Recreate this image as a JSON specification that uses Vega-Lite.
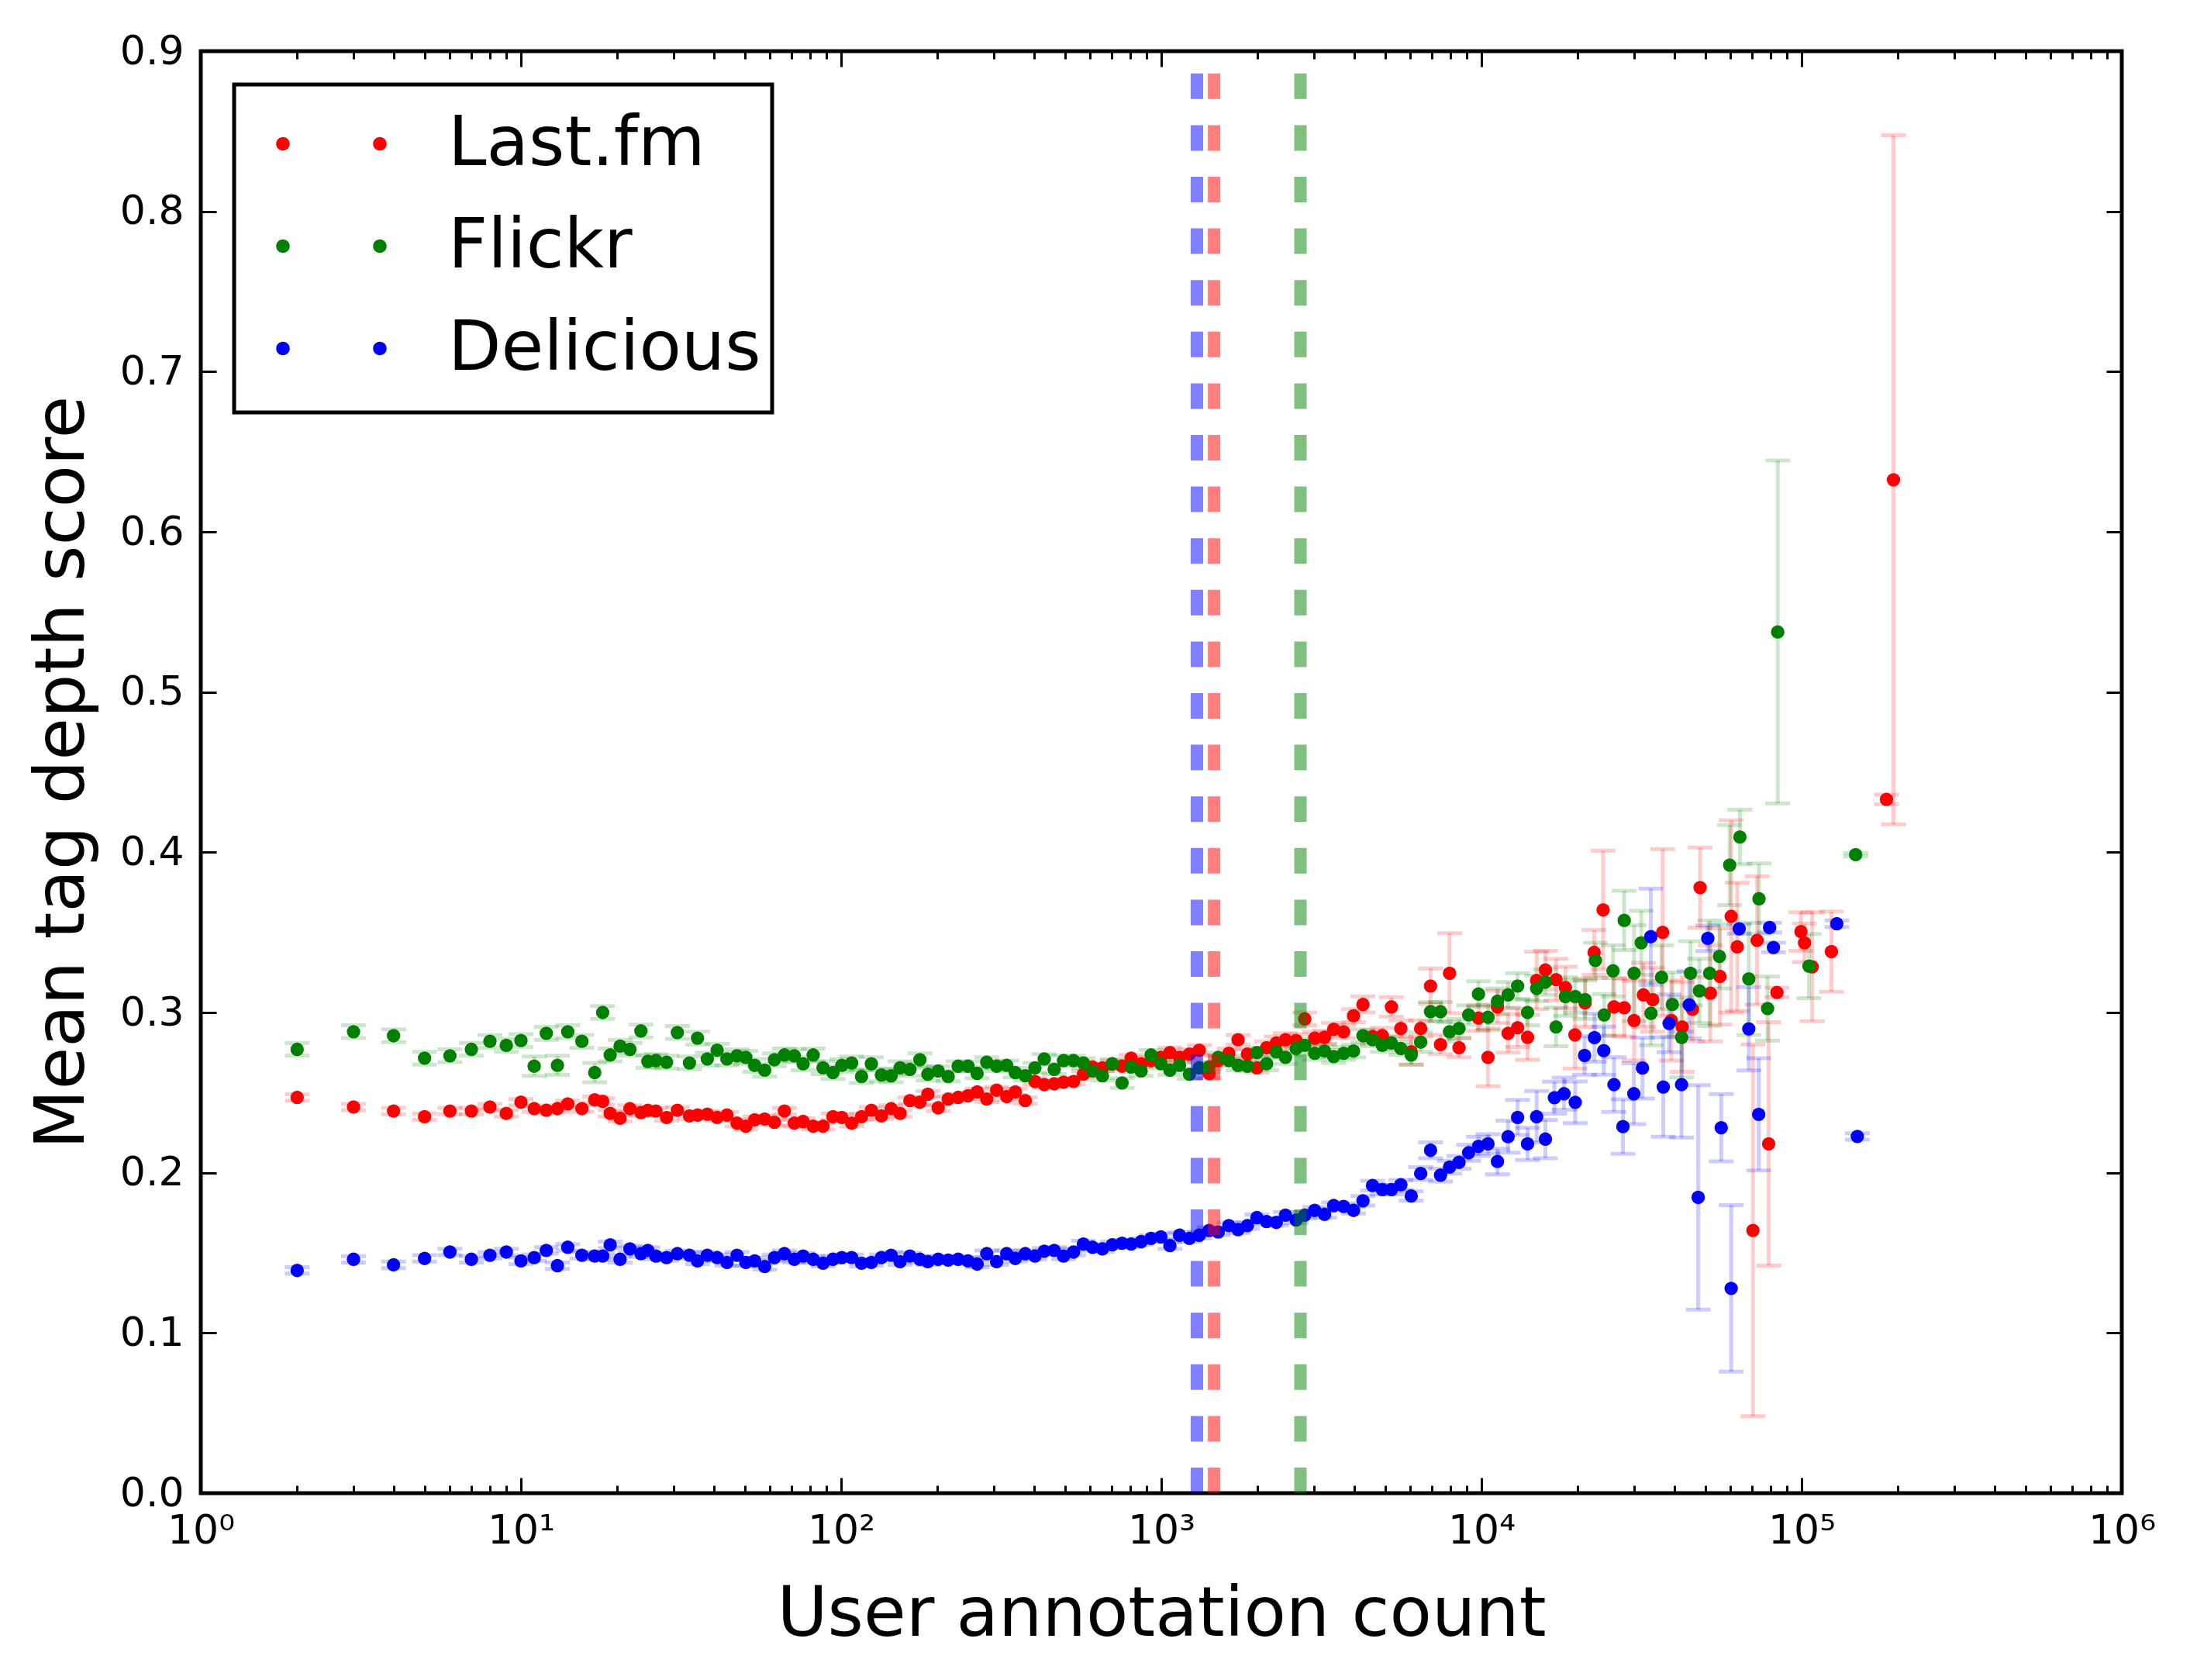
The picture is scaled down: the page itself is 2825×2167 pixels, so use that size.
{
  "$schema": "https://vega.github.io/schema/vega-lite/v6.json",
  "width": 2478,
  "height": 1860,
  "autosize": {"type": "none"},
  "padding": {"left": 259, "top": 66, "right": 88, "bottom": 241},
  "background": "white",
  "config": {
    "font": "DejaVu Sans",
    "view": {"stroke": "black", "strokeWidth": 5},
    "axis": {
      "domain": false,
      "grid": false,
      "tickColor": "black",
      "tickWidth": 3,
      "labelColor": "black",
      "labelFont": "DejaVu Sans",
      "labelFontSize": 52,
      "labelOverlap": false,
      "labelFlush": false,
      "titleColor": "black",
      "titleFont": "DejaVu Sans",
      "titleFontSize": 89,
      "titleFontWeight": "normal"
    },
    "legend": {"strokeWidth": 5}
  },
  "data": {
    "values": [
      {"s":"Last.fm","x":2,"y":0.247,"e":0.002},{"s":"Last.fm","x":3,"y":0.241,"e":0.002},{"s":"Last.fm","x":4,"y":0.2385,"e":0.002},{"s":"Last.fm","x":5,"y":0.235,"e":0.002},
      {"s":"Last.fm","x":6,"y":0.2385,"e":0.002},{"s":"Last.fm","x":7,"y":0.2385,"e":0.002},{"s":"Last.fm","x":8,"y":0.241,"e":0.002},{"s":"Last.fm","x":9,"y":0.237,"e":0.002},
      {"s":"Last.fm","x":10,"y":0.244,"e":0.002},{"s":"Last.fm","x":11,"y":0.24,"e":0.002},{"s":"Last.fm","x":12,"y":0.239,"e":0.002},{"s":"Last.fm","x":13,"y":0.24,"e":0.002},
      {"s":"Last.fm","x":14,"y":0.243,"e":0.002},{"s":"Last.fm","x":15.5,"y":0.24,"e":0.002},{"s":"Last.fm","x":17,"y":0.2455,"e":0.002},{"s":"Last.fm","x":18,"y":0.2445,"e":0.002},
      {"s":"Last.fm","x":19,"y":0.237,"e":0.002},{"s":"Last.fm","x":20.4,"y":0.234,"e":0.002},{"s":"Last.fm","x":21.9,"y":0.24,"e":0.002},{"s":"Last.fm","x":23.7,"y":0.2375,"e":0.002},
      {"s":"Last.fm","x":24.9,"y":0.239,"e":0.002},{"s":"Last.fm","x":26.4,"y":0.2385,"e":0.002},{"s":"Last.fm","x":28.5,"y":0.2345,"e":0.002},{"s":"Last.fm","x":30.8,"y":0.239,"e":0.002},
      {"s":"Last.fm","x":33.6,"y":0.2355,"e":0.002},{"s":"Last.fm","x":35.6,"y":0.236,"e":0.002},{"s":"Last.fm","x":38.2,"y":0.2365,"e":0.002},{"s":"Last.fm","x":41,"y":0.2345,"e":0.002},
      {"s":"Last.fm","x":44,"y":0.236,"e":0.002},{"s":"Last.fm","x":47.3,"y":0.231,"e":0.002},{"s":"Last.fm","x":50.4,"y":0.229,"e":0.002},{"s":"Last.fm","x":53.7,"y":0.233,"e":0.002},
      {"s":"Last.fm","x":57.7,"y":0.2335,"e":0.002},{"s":"Last.fm","x":61.9,"y":0.2315,"e":0.002},{"s":"Last.fm","x":66.5,"y":0.2385,"e":0.002},{"s":"Last.fm","x":71.4,"y":0.231,"e":0.002},
      {"s":"Last.fm","x":76.1,"y":0.232,"e":0.002},{"s":"Last.fm","x":81.8,"y":0.229,"e":0.002},{"s":"Last.fm","x":87.8,"y":0.229,"e":0.002},{"s":"Last.fm","x":94.3,"y":0.235,"e":0.002},
      {"s":"Last.fm","x":100.5,"y":0.2345,"e":0.002},{"s":"Last.fm","x":107.9,"y":0.231,"e":0.002},{"s":"Last.fm","x":115.8,"y":0.235,"e":0.002},{"s":"Last.fm","x":124.3,"y":0.239,"e":0.002},
      {"s":"Last.fm","x":133.6,"y":0.2355,"e":0.002},{"s":"Last.fm","x":143.3,"y":0.24,"e":0.002},{"s":"Last.fm","x":152.8,"y":0.237,"e":0.002},{"s":"Last.fm","x":164,"y":0.245,"e":0.002},
      {"s":"Last.fm","x":176.2,"y":0.244,"e":0.002},{"s":"Last.fm","x":186.6,"y":0.249,"e":0.002},{"s":"Last.fm","x":201,"y":0.2405,"e":0.002},{"s":"Last.fm","x":216,"y":0.246,"e":0.002},
      {"s":"Last.fm","x":232,"y":0.247,"e":0.002},{"s":"Last.fm","x":249,"y":0.248,"e":0.002},{"s":"Last.fm","x":266,"y":0.2505,"e":0.002},{"s":"Last.fm","x":285,"y":0.246,"e":0.002},
      {"s":"Last.fm","x":306,"y":0.2515,"e":0.002},{"s":"Last.fm","x":329,"y":0.2475,"e":0.002},{"s":"Last.fm","x":350,"y":0.2505,"e":0.002},{"s":"Last.fm","x":376,"y":0.245,"e":0.002},
      {"s":"Last.fm","x":403,"y":0.257,"e":0.002},{"s":"Last.fm","x":431,"y":0.255,"e":0.002},{"s":"Last.fm","x":463,"y":0.2555,"e":0.002},{"s":"Last.fm","x":495,"y":0.2565,"e":0.002},
      {"s":"Last.fm","x":532,"y":0.257,"e":0.002},{"s":"Last.fm","x":571,"y":0.2615,"e":0.002},{"s":"Last.fm","x":610,"y":0.266,"e":0.002},{"s":"Last.fm","x":655,"y":0.2655,"e":0.002},
      {"s":"Last.fm","x":703,"y":0.268,"e":0.002},{"s":"Last.fm","x":754,"y":0.2665,"e":0.002},{"s":"Last.fm","x":805,"y":0.2715,"e":0.002},{"s":"Last.fm","x":865,"y":0.268,"e":0.002},
      {"s":"Last.fm","x":929,"y":0.27,"e":0.002},{"s":"Last.fm","x":997,"y":0.272,"e":0.003},{"s":"Last.fm","x":1064,"y":0.275,"e":0.003},{"s":"Last.fm","x":1140,"y":0.272,"e":0.003},
      {"s":"Last.fm","x":1224,"y":0.274,"e":0.003},{"s":"Last.fm","x":1314,"y":0.2765,"e":0.003},{"s":"Last.fm","x":1410,"y":0.262,"e":0.003},{"s":"Last.fm","x":1506,"y":0.27,"e":0.003},
      {"s":"Last.fm","x":1626,"y":0.2745,"e":0.003},{"s":"Last.fm","x":1737,"y":0.283,"e":0.003},{"s":"Last.fm","x":1858,"y":0.274,"e":0.003},{"s":"Last.fm","x":1989,"y":0.2655,"e":0.003},
      {"s":"Last.fm","x":2132,"y":0.278,"e":0.004},{"s":"Last.fm","x":2287,"y":0.281,"e":0.004},{"s":"Last.fm","x":2443,"y":0.283,"e":0.004},{"s":"Last.fm","x":2637,"y":0.2825,"e":0.004},
      {"s":"Last.fm","x":2806,"y":0.296,"e":0.004},{"s":"Last.fm","x":3014,"y":0.284,"e":0.004},{"s":"Last.fm","x":3236,"y":0.2845,"e":0.004},{"s":"Last.fm","x":3455,"y":0.2895,"e":0.004},
      {"s":"Last.fm","x":3711,"y":0.288,"e":0.004},{"s":"Last.fm","x":3985,"y":0.298,"e":0.004},{"s":"Last.fm","x":4266,"y":0.305,"e":0.005},{"s":"Last.fm","x":4570,"y":0.285,"e":0.004},
      {"s":"Last.fm","x":4902,"y":0.2855,"e":0.005},{"s":"Last.fm","x":5235,"y":0.3035,"e":0.006},{"s":"Last.fm","x":5600,"y":0.29,"e":0.005},{"s":"Last.fm","x":6035,"y":0.2755,"e":0.008},
      {"s":"Last.fm","x":6460,"y":0.29,"e":0.005},{"s":"Last.fm","x":6935,"y":0.3165,"e":0.011},{"s":"Last.fm","x":7450,"y":0.28,"e":0.006},{"s":"Last.fm","x":7950,"y":0.3245,"e":0.025},
      {"s":"Last.fm","x":8510,"y":0.278,"e":0.006},{"s":"Last.fm","x":9790,"y":0.2965,"e":0.008},{"s":"Last.fm","x":10480,"y":0.272,"e":0.018},{"s":"Last.fm","x":11220,"y":0.3035,"e":0.01},
      {"s":"Last.fm","x":12110,"y":0.287,"e":0.012},{"s":"Last.fm","x":12970,"y":0.2905,"e":0.012},{"s":"Last.fm","x":13930,"y":0.2845,"e":0.014},{"s":"Last.fm","x":14870,"y":0.32,"e":0.018},
      {"s":"Last.fm","x":15840,"y":0.3265,"e":0.012},{"s":"Last.fm","x":17100,"y":0.3205,"e":0.013},{"s":"Last.fm","x":18290,"y":0.3155,"e":0.013},{"s":"Last.fm","x":19590,"y":0.286,"e":0.021},
      {"s":"Last.fm","x":21070,"y":0.306,"e":0.015},{"s":"Last.fm","x":22490,"y":0.3375,"e":0.014},{"s":"Last.fm","x":23990,"y":0.364,"e":0.037},{"s":"Last.fm","x":25940,"y":0.3035,"e":0.018},
      {"s":"Last.fm","x":27920,"y":0.303,"e":0.018},{"s":"Last.fm","x":29970,"y":0.295,"e":0.025},{"s":"Last.fm","x":32060,"y":0.311,"e":0.02},{"s":"Last.fm","x":34280,"y":0.308,"e":0.02},
      {"s":"Last.fm","x":36810,"y":0.35,"e":0.052},{"s":"Last.fm","x":39170,"y":0.295,"e":0.025},{"s":"Last.fm","x":42360,"y":0.291,"e":0.028},{"s":"Last.fm","x":45600,"y":0.302,"e":0.02},
      {"s":"Last.fm","x":48190,"y":0.378,"e":0.025},{"s":"Last.fm","x":51880,"y":0.312,"e":0.03},{"s":"Last.fm","x":55590,"y":0.3225,"e":0.03},{"s":"Last.fm","x":60260,"y":0.36,"e":0.06},
      {"s":"Last.fm","x":62950,"y":0.341,"e":0.04},{"s":"Last.fm","x":70470,"y":0.164,"e":0.116},{"s":"Last.fm","x":72610,"y":0.345,"e":0.04},{"s":"Last.fm","x":78890,"y":0.218,"e":0.076},
      {"s":"Last.fm","x":83750,"y":0.3125,"e":0.003},{"s":"Last.fm","x":99540,"y":0.3505,"e":0.012},{"s":"Last.fm","x":102100,"y":0.3435,"e":0.012},{"s":"Last.fm","x":107900,"y":0.3285,"e":0.034},
      {"s":"Last.fm","x":123900,"y":0.338,"e":0.025},{"s":"Last.fm","x":184100,"y":0.433,"e":0.003},{"s":"Last.fm","x":193600,"y":0.6325,"e":0.215},

      {"s":"Flickr","x":2,"y":0.277,"e":0.004},{"s":"Flickr","x":3,"y":0.288,"e":0.004},{"s":"Flickr","x":4,"y":0.2855,"e":0.004},{"s":"Flickr","x":5,"y":0.2715,"e":0.004},
      {"s":"Flickr","x":6,"y":0.273,"e":0.004},{"s":"Flickr","x":7,"y":0.277,"e":0.004},{"s":"Flickr","x":8,"y":0.282,"e":0.004},{"s":"Flickr","x":9,"y":0.2795,"e":0.004},
      {"s":"Flickr","x":10,"y":0.2825,"e":0.004},{"s":"Flickr","x":11,"y":0.2665,"e":0.006},{"s":"Flickr","x":12,"y":0.287,"e":0.004},{"s":"Flickr","x":13,"y":0.267,"e":0.006},
      {"s":"Flickr","x":14,"y":0.288,"e":0.004},{"s":"Flickr","x":15.5,"y":0.282,"e":0.004},{"s":"Flickr","x":17,"y":0.2625,"e":0.006},{"s":"Flickr","x":18,"y":0.3,"e":0.004},
      {"s":"Flickr","x":19,"y":0.2735,"e":0.004},{"s":"Flickr","x":20.4,"y":0.279,"e":0.004},{"s":"Flickr","x":21.9,"y":0.277,"e":0.004},{"s":"Flickr","x":23.7,"y":0.2885,"e":0.004},
      {"s":"Flickr","x":24.9,"y":0.2695,"e":0.004},{"s":"Flickr","x":26.4,"y":0.27,"e":0.004},{"s":"Flickr","x":28.5,"y":0.269,"e":0.004},{"s":"Flickr","x":30.8,"y":0.2875,"e":0.004},
      {"s":"Flickr","x":33.6,"y":0.2685,"e":0.004},{"s":"Flickr","x":35.6,"y":0.284,"e":0.004},{"s":"Flickr","x":38.2,"y":0.271,"e":0.004},{"s":"Flickr","x":41,"y":0.2765,"e":0.004},
      {"s":"Flickr","x":44,"y":0.271,"e":0.004},{"s":"Flickr","x":47.3,"y":0.273,"e":0.004},{"s":"Flickr","x":50.4,"y":0.272,"e":0.004},{"s":"Flickr","x":53.7,"y":0.267,"e":0.004},
      {"s":"Flickr","x":57.7,"y":0.264,"e":0.004},{"s":"Flickr","x":61.9,"y":0.2705,"e":0.004},{"s":"Flickr","x":66.5,"y":0.2735,"e":0.004},{"s":"Flickr","x":71.4,"y":0.273,"e":0.004},
      {"s":"Flickr","x":76.1,"y":0.268,"e":0.004},{"s":"Flickr","x":81.8,"y":0.2735,"e":0.004},{"s":"Flickr","x":87.8,"y":0.2655,"e":0.004},{"s":"Flickr","x":94.3,"y":0.2625,"e":0.004},
      {"s":"Flickr","x":100.5,"y":0.267,"e":0.004},{"s":"Flickr","x":107.9,"y":0.2685,"e":0.004},{"s":"Flickr","x":115.8,"y":0.26,"e":0.004},{"s":"Flickr","x":124.3,"y":0.268,"e":0.004},
      {"s":"Flickr","x":133.6,"y":0.261,"e":0.004},{"s":"Flickr","x":143.3,"y":0.2605,"e":0.004},{"s":"Flickr","x":152.8,"y":0.2655,"e":0.004},{"s":"Flickr","x":164,"y":0.2645,"e":0.004},
      {"s":"Flickr","x":176.2,"y":0.2705,"e":0.004},{"s":"Flickr","x":186.6,"y":0.2615,"e":0.004},{"s":"Flickr","x":201,"y":0.2635,"e":0.003},{"s":"Flickr","x":216,"y":0.26,"e":0.003},
      {"s":"Flickr","x":232,"y":0.2665,"e":0.003},{"s":"Flickr","x":249,"y":0.2665,"e":0.003},{"s":"Flickr","x":266,"y":0.262,"e":0.003},{"s":"Flickr","x":285,"y":0.269,"e":0.003},
      {"s":"Flickr","x":306,"y":0.2665,"e":0.003},{"s":"Flickr","x":329,"y":0.267,"e":0.003},{"s":"Flickr","x":350,"y":0.2625,"e":0.003},{"s":"Flickr","x":376,"y":0.2605,"e":0.003},
      {"s":"Flickr","x":403,"y":0.2655,"e":0.003},{"s":"Flickr","x":431,"y":0.271,"e":0.003},{"s":"Flickr","x":463,"y":0.2645,"e":0.003},{"s":"Flickr","x":495,"y":0.27,"e":0.003},
      {"s":"Flickr","x":532,"y":0.27,"e":0.003},{"s":"Flickr","x":571,"y":0.2685,"e":0.003},{"s":"Flickr","x":610,"y":0.2635,"e":0.003},{"s":"Flickr","x":655,"y":0.2605,"e":0.003},
      {"s":"Flickr","x":703,"y":0.268,"e":0.003},{"s":"Flickr","x":754,"y":0.256,"e":0.003},{"s":"Flickr","x":805,"y":0.266,"e":0.003},{"s":"Flickr","x":865,"y":0.2635,"e":0.003},
      {"s":"Flickr","x":929,"y":0.2735,"e":0.003},{"s":"Flickr","x":997,"y":0.268,"e":0.003},{"s":"Flickr","x":1064,"y":0.264,"e":0.003},{"s":"Flickr","x":1140,"y":0.267,"e":0.003},
      {"s":"Flickr","x":1224,"y":0.2615,"e":0.003},{"s":"Flickr","x":1314,"y":0.2655,"e":0.003},{"s":"Flickr","x":1410,"y":0.266,"e":0.003},{"s":"Flickr","x":1506,"y":0.272,"e":0.003},
      {"s":"Flickr","x":1626,"y":0.27,"e":0.003},{"s":"Flickr","x":1737,"y":0.267,"e":0.003},{"s":"Flickr","x":1858,"y":0.2665,"e":0.003},{"s":"Flickr","x":1989,"y":0.275,"e":0.003},
      {"s":"Flickr","x":2132,"y":0.268,"e":0.004},{"s":"Flickr","x":2287,"y":0.2755,"e":0.004},{"s":"Flickr","x":2443,"y":0.272,"e":0.004},{"s":"Flickr","x":2637,"y":0.2775,"e":0.004},
      {"s":"Flickr","x":2806,"y":0.2795,"e":0.004},{"s":"Flickr","x":3014,"y":0.2745,"e":0.004},{"s":"Flickr","x":3236,"y":0.276,"e":0.004},{"s":"Flickr","x":3455,"y":0.2725,"e":0.004},
      {"s":"Flickr","x":3711,"y":0.2745,"e":0.004},{"s":"Flickr","x":3985,"y":0.276,"e":0.004},{"s":"Flickr","x":4266,"y":0.2855,"e":0.004},{"s":"Flickr","x":4570,"y":0.283,"e":0.004},
      {"s":"Flickr","x":4902,"y":0.2795,"e":0.004},{"s":"Flickr","x":5235,"y":0.281,"e":0.004},{"s":"Flickr","x":5600,"y":0.2775,"e":0.004},{"s":"Flickr","x":6035,"y":0.2735,"e":0.006},
      {"s":"Flickr","x":6460,"y":0.2815,"e":0.006},{"s":"Flickr","x":6935,"y":0.3005,"e":0.006},{"s":"Flickr","x":7450,"y":0.3005,"e":0.006},{"s":"Flickr","x":7950,"y":0.288,"e":0.006},
      {"s":"Flickr","x":8510,"y":0.29,"e":0.006},{"s":"Flickr","x":9120,"y":0.2985,"e":0.006},{"s":"Flickr","x":9790,"y":0.3115,"e":0.008},{"s":"Flickr","x":10480,"y":0.297,"e":0.008},
      {"s":"Flickr","x":11220,"y":0.307,"e":0.008},{"s":"Flickr","x":12110,"y":0.311,"e":0.008},{"s":"Flickr","x":12970,"y":0.3165,"e":0.008},{"s":"Flickr","x":13930,"y":0.3,"e":0.008},
      {"s":"Flickr","x":14870,"y":0.315,"e":0.008},{"s":"Flickr","x":15840,"y":0.319,"e":0.008},{"s":"Flickr","x":17100,"y":0.291,"e":0.012},{"s":"Flickr","x":18290,"y":0.31,"e":0.012},
      {"s":"Flickr","x":19630,"y":0.31,"e":0.01},{"s":"Flickr","x":21070,"y":0.308,"e":0.012},{"s":"Flickr","x":22690,"y":0.3325,"e":0.011},{"s":"Flickr","x":24170,"y":0.2985,"e":0.013},
      {"s":"Flickr","x":25760,"y":0.326,"e":0.016},{"s":"Flickr","x":27920,"y":0.3575,"e":0.0185},{"s":"Flickr","x":29970,"y":0.3245,"e":0.03},{"s":"Flickr","x":31560,"y":0.3435,"e":0.02},
      {"s":"Flickr","x":33840,"y":0.2995,"e":0.02},{"s":"Flickr","x":36520,"y":0.322,"e":0.02},{"s":"Flickr","x":39470,"y":0.305,"e":0.02},{"s":"Flickr","x":42190,"y":0.2845,"e":0.025},
      {"s":"Flickr","x":44980,"y":0.3245,"e":0.02},{"s":"Flickr","x":47960,"y":0.3135,"e":0.02},{"s":"Flickr","x":51620,"y":0.3245,"e":0.033},{"s":"Flickr","x":55380,"y":0.335,"e":0.02},
      {"s":"Flickr","x":59600,"y":0.392,"e":0.025},{"s":"Flickr","x":64160,"y":0.4095,"e":0.017},{"s":"Flickr","x":68400,"y":0.321,"e":0.035},{"s":"Flickr","x":73600,"y":0.371,"e":0.022},
      {"s":"Flickr","x":78300,"y":0.3025,"e":0.02},{"s":"Flickr","x":84200,"y":0.5375,"e":0.107},{"s":"Flickr","x":105400,"y":0.329,"e":0.02},{"s":"Flickr","x":147500,"y":0.3985,"e":0.001},

      {"s":"Delicious","x":2,"y":0.139,"e":0.002},{"s":"Delicious","x":3,"y":0.146,"e":0.002},{"s":"Delicious","x":4,"y":0.1425,"e":0.002},{"s":"Delicious","x":5,"y":0.1465,"e":0.002},
      {"s":"Delicious","x":6,"y":0.1505,"e":0.002},{"s":"Delicious","x":7,"y":0.146,"e":0.002},{"s":"Delicious","x":8,"y":0.1485,"e":0.002},{"s":"Delicious","x":9,"y":0.1505,"e":0.002},
      {"s":"Delicious","x":10,"y":0.145,"e":0.002},{"s":"Delicious","x":11,"y":0.147,"e":0.002},{"s":"Delicious","x":12,"y":0.1515,"e":0.002},{"s":"Delicious","x":13,"y":0.142,"e":0.002},
      {"s":"Delicious","x":14,"y":0.1535,"e":0.002},{"s":"Delicious","x":15.5,"y":0.1485,"e":0.002},{"s":"Delicious","x":17,"y":0.148,"e":0.002},{"s":"Delicious","x":18,"y":0.148,"e":0.002},
      {"s":"Delicious","x":19,"y":0.155,"e":0.002},{"s":"Delicious","x":20.4,"y":0.146,"e":0.002},{"s":"Delicious","x":21.9,"y":0.1525,"e":0.002},{"s":"Delicious","x":23.7,"y":0.1495,"e":0.002},
      {"s":"Delicious","x":24.9,"y":0.1515,"e":0.002},{"s":"Delicious","x":26.4,"y":0.148,"e":0.002},{"s":"Delicious","x":28.5,"y":0.147,"e":0.002},{"s":"Delicious","x":30.8,"y":0.1495,"e":0.002},
      {"s":"Delicious","x":33.6,"y":0.1485,"e":0.002},{"s":"Delicious","x":35.6,"y":0.145,"e":0.002},{"s":"Delicious","x":38.2,"y":0.1485,"e":0.002},{"s":"Delicious","x":41,"y":0.147,"e":0.002},
      {"s":"Delicious","x":44,"y":0.144,"e":0.002},{"s":"Delicious","x":47.3,"y":0.1485,"e":0.002},{"s":"Delicious","x":50.4,"y":0.144,"e":0.002},{"s":"Delicious","x":53.7,"y":0.145,"e":0.002},
      {"s":"Delicious","x":57.7,"y":0.1415,"e":0.002},{"s":"Delicious","x":61.9,"y":0.147,"e":0.002},{"s":"Delicious","x":66.5,"y":0.1495,"e":0.002},{"s":"Delicious","x":71.4,"y":0.146,"e":0.002},
      {"s":"Delicious","x":76.1,"y":0.148,"e":0.002},{"s":"Delicious","x":81.8,"y":0.146,"e":0.002},{"s":"Delicious","x":87.8,"y":0.1435,"e":0.002},{"s":"Delicious","x":94.3,"y":0.146,"e":0.002},
      {"s":"Delicious","x":100.5,"y":0.147,"e":0.002},{"s":"Delicious","x":107.9,"y":0.147,"e":0.002},{"s":"Delicious","x":115.8,"y":0.1435,"e":0.002},{"s":"Delicious","x":124.3,"y":0.144,"e":0.002},
      {"s":"Delicious","x":133.6,"y":0.147,"e":0.002},{"s":"Delicious","x":143.3,"y":0.1485,"e":0.002},{"s":"Delicious","x":152.8,"y":0.1445,"e":0.002},{"s":"Delicious","x":164,"y":0.148,"e":0.002},
      {"s":"Delicious","x":176.2,"y":0.146,"e":0.002},{"s":"Delicious","x":186.6,"y":0.1445,"e":0.002},{"s":"Delicious","x":201,"y":0.146,"e":0.002},{"s":"Delicious","x":216,"y":0.1455,"e":0.002},
      {"s":"Delicious","x":232,"y":0.146,"e":0.002},{"s":"Delicious","x":249,"y":0.145,"e":0.002},{"s":"Delicious","x":266,"y":0.143,"e":0.002},{"s":"Delicious","x":285,"y":0.1495,"e":0.002},
      {"s":"Delicious","x":306,"y":0.1445,"e":0.002},{"s":"Delicious","x":329,"y":0.1495,"e":0.002},{"s":"Delicious","x":350,"y":0.1465,"e":0.002},{"s":"Delicious","x":376,"y":0.1495,"e":0.002},
      {"s":"Delicious","x":403,"y":0.148,"e":0.002},{"s":"Delicious","x":431,"y":0.151,"e":0.002},{"s":"Delicious","x":463,"y":0.1515,"e":0.002},{"s":"Delicious","x":495,"y":0.148,"e":0.002},
      {"s":"Delicious","x":532,"y":0.1505,"e":0.002},{"s":"Delicious","x":571,"y":0.1555,"e":0.002},{"s":"Delicious","x":610,"y":0.1535,"e":0.002},{"s":"Delicious","x":655,"y":0.1525,"e":0.002},
      {"s":"Delicious","x":703,"y":0.155,"e":0.002},{"s":"Delicious","x":754,"y":0.156,"e":0.002},{"s":"Delicious","x":805,"y":0.1555,"e":0.002},{"s":"Delicious","x":865,"y":0.157,"e":0.002},
      {"s":"Delicious","x":929,"y":0.159,"e":0.002},{"s":"Delicious","x":997,"y":0.16,"e":0.002},{"s":"Delicious","x":1064,"y":0.1545,"e":0.002},{"s":"Delicious","x":1140,"y":0.161,"e":0.002},
      {"s":"Delicious","x":1224,"y":0.159,"e":0.002},{"s":"Delicious","x":1314,"y":0.161,"e":0.002},{"s":"Delicious","x":1410,"y":0.164,"e":0.002},{"s":"Delicious","x":1506,"y":0.163,"e":0.002},
      {"s":"Delicious","x":1626,"y":0.167,"e":0.002},{"s":"Delicious","x":1737,"y":0.1645,"e":0.002},{"s":"Delicious","x":1858,"y":0.167,"e":0.002},{"s":"Delicious","x":1989,"y":0.172,"e":0.002},
      {"s":"Delicious","x":2132,"y":0.1695,"e":0.002},{"s":"Delicious","x":2287,"y":0.169,"e":0.002},{"s":"Delicious","x":2443,"y":0.1735,"e":0.002},{"s":"Delicious","x":2637,"y":0.1705,"e":0.002},
      {"s":"Delicious","x":2806,"y":0.1735,"e":0.002},{"s":"Delicious","x":3014,"y":0.1765,"e":0.002},{"s":"Delicious","x":3236,"y":0.174,"e":0.002},{"s":"Delicious","x":3455,"y":0.1795,"e":0.002},
      {"s":"Delicious","x":3711,"y":0.179,"e":0.002},{"s":"Delicious","x":3985,"y":0.1765,"e":0.002},{"s":"Delicious","x":4266,"y":0.1825,"e":0.003},{"s":"Delicious","x":4570,"y":0.192,"e":0.003},
      {"s":"Delicious","x":4902,"y":0.1895,"e":0.003},{"s":"Delicious","x":5235,"y":0.1895,"e":0.003},{"s":"Delicious","x":5600,"y":0.1925,"e":0.003},{"s":"Delicious","x":6035,"y":0.1855,"e":0.003},
      {"s":"Delicious","x":6460,"y":0.1995,"e":0.004},{"s":"Delicious","x":6935,"y":0.214,"e":0.005},{"s":"Delicious","x":7450,"y":0.1985,"e":0.004},{"s":"Delicious","x":7950,"y":0.2035,"e":0.004},
      {"s":"Delicious","x":8510,"y":0.2065,"e":0.004},{"s":"Delicious","x":9120,"y":0.2125,"e":0.005},{"s":"Delicious","x":9790,"y":0.2165,"e":0.006},{"s":"Delicious","x":10480,"y":0.218,"e":0.006},
      {"s":"Delicious","x":11220,"y":0.207,"e":0.008},{"s":"Delicious","x":12110,"y":0.2225,"e":0.01},{"s":"Delicious","x":12970,"y":0.2345,"e":0.011},{"s":"Delicious","x":13930,"y":0.218,"e":0.01},
      {"s":"Delicious","x":14870,"y":0.235,"e":0.016},{"s":"Delicious","x":15840,"y":0.221,"e":0.012},{"s":"Delicious","x":16900,"y":0.2468,"e":0.01},{"s":"Delicious","x":18110,"y":0.2493,"e":0.01},
      {"s":"Delicious","x":19630,"y":0.2439,"e":0.013},{"s":"Delicious","x":20990,"y":0.2732,"e":0.012},{"s":"Delicious","x":22540,"y":0.2843,"e":0.015},{"s":"Delicious","x":24100,"y":0.2762,"e":0.015},
      {"s":"Delicious","x":25940,"y":0.255,"e":0.017},{"s":"Delicious","x":27670,"y":0.2288,"e":0.017},{"s":"Delicious","x":29920,"y":0.2493,"e":0.019},{"s":"Delicious","x":31840,"y":0.2653,"e":0.019},
      {"s":"Delicious","x":33810,"y":0.3473,"e":0.03},{"s":"Delicious","x":36980,"y":0.2535,"e":0.031},{"s":"Delicious","x":38550,"y":0.2932,"e":0.018},{"s":"Delicious","x":42170,"y":0.255,"e":0.033},
      {"s":"Delicious","x":44570,"y":0.3048,"e":0.021},{"s":"Delicious","x":47530,"y":0.1846,"e":0.07},{"s":"Delicious","x":50930,"y":0.3463,"e":0.008},{"s":"Delicious","x":56100,"y":0.2281,"e":0.021},
      {"s":"Delicious","x":60260,"y":0.1278,"e":0.052},{"s":"Delicious","x":63830,"y":0.3522,"e":0.003},{"s":"Delicious","x":68390,"y":0.2898,"e":0.026},{"s":"Delicious","x":73450,"y":0.2364,"e":0.035},
      {"s":"Delicious","x":79430,"y":0.353,"e":0.003},{"s":"Delicious","x":81660,"y":0.3406,"e":0.003},{"s":"Delicious","x":128800,"y":0.3554,"e":0.002},{"s":"Delicious","x":149300,"y":0.2226,"e":0.002}
    ]
  },
  "layer": [
    {
      "mark": {
        "type": "errorbar",
        "ticks": {"size": 32, "thickness": 5, "opacity": 0.2},
        "rule": {"strokeWidth": 5, "opacity": 0.2}
      },
      "encoding": {
        "x": {"field": "x", "type": "quantitative", "scale": {"type": "log", "domain": [1, 1000000], "nice": false}, "axis": null},
        "y": {"field": "y", "type": "quantitative", "scale": {"domain": [0, 0.9], "nice": false, "zero": false}, "axis": null},
        "yError": {"field": "e"},
        "color": {"field": "s", "type": "nominal", "scale": {"domain": ["Last.fm", "Flickr", "Delicious"], "range": ["#ff0000", "#008000", "#0000ff"]}, "legend": null}
      }
    },
    {
      "mark": {"type": "circle", "size": 300, "opacity": 1},
      "encoding": {
        "x": {
          "field": "x", "type": "quantitative",
          "scale": {"type": "log", "domain": [1, 1000000], "nice": false},
          "axis": {
            "orient": "bottom",
            "title": "User annotation count",
            "values": [1,2,3,4,5,6,7,8,9,10,20,30,40,50,60,70,80,90,100,200,300,400,500,600,700,800,900,1000,2000,3000,4000,5000,6000,7000,8000,9000,10000,20000,30000,40000,50000,60000,70000,80000,90000,100000,200000,300000,400000,500000,600000,700000,800000,900000,1000000],
            "labelExpr": "datum.value == 1 ? '10⁰' : datum.value == 10 ? '10¹' : datum.value == 100 ? '10²' : datum.value == 1000 ? '10³' : datum.value == 10000 ? '10⁴' : datum.value == 100000 ? '10⁵' : datum.value == 1000000 ? '10⁶' : ''",
            "tickSize": {"condition": {"test": "indexof([1,10,100,1000,10000,100000,1000000], datum.value) >= 0", "value": -20}, "value": -10},
            "labelPadding": 43,
            "titlePadding": 29
          }
        },
        "y": {
          "field": "y", "type": "quantitative",
          "scale": {"domain": [0, 0.9], "nice": false, "zero": false},
          "axis": {
            "orient": "left",
            "title": "Mean tag depth score",
            "values": [0, 0.1, 0.2, 0.3, 0.4, 0.5, 0.6, 0.7, 0.8, 0.9],
            "format": ".1f",
            "tickSize": -20,
            "labelPadding": 42,
            "titlePadding": 28
          }
        },
        "color": {
          "field": "s", "type": "nominal",
          "scale": {"domain": ["Last.fm", "Flickr", "Delicious"], "range": ["#ff0000", "#008000", "#0000ff"]},
          "legend": {
            "title": " ",
            "titleOrient": "bottom",
            "titleFontSize": 10,
            "titlePadding": 13,
            "orient": "top-left",
            "offset": 43,
            "symbolType": "M -0.86 0 A 0.14 0.14 0 1 1 -1.14 0 A 0.14 0.14 0 1 1 -0.86 0 Z M 1.14 0 A 0.14 0.14 0 1 1 0.86 0 A 0.14 0.14 0 1 1 1.14 0 Z",
            "symbolSize": 15625,
            "symbolStrokeWidth": 0,
            "symbolOpacity": 1,
            "labelFont": "DejaVu Sans",
            "labelFontSize": 89,
            "labelColor": "black",
            "labelLimit": 0,
            "labelExpr": "datum.label + '\u00a0'",
            "padding": 14,
            "symbolOffset": 49,
            "labelOffset": 88,
            "rowPadding": 24,
            "strokeColor": "black",
            "fillColor": "white",
            "cornerRadius": 0
          }
        }
      }
    },
    {
      "data": {
        "values": [
          {"s": "Delicious", "x": 1292},
          {"s": "Last.fm", "x": 1462},
          {"s": "Flickr", "x": 2721}
        ]
      },
      "mark": {"type": "rule", "strokeWidth": 16, "strokeDash": [33, 33.6], "opacity": 0.5},
      "encoding": {
        "x": {
          "field": "x", "type": "quantitative",
          "scale": {"type": "log", "domain": [1, 1000000], "nice": false},
          "axis": {
            "orient": "top",
            "title": null,
            "labels": false,
            "values": [1,2,3,4,5,6,7,8,9,10,20,30,40,50,60,70,80,90,100,200,300,400,500,600,700,800,900,1000,2000,3000,4000,5000,6000,7000,8000,9000,10000,20000,30000,40000,50000,60000,70000,80000,90000,100000,200000,300000,400000,500000,600000,700000,800000,900000,1000000],
            "tickSize": {"condition": {"test": "indexof([1,10,100,1000,10000,100000,1000000], datum.value) >= 0", "value": -20}, "value": -10}
          }
        },
        "y": {
          "datum": 0, "type": "quantitative",
          "scale": {"domain": [0, 0.9], "nice": false, "zero": false},
          "axis": {
            "orient": "right",
            "title": null,
            "labels": false,
            "values": [0, 0.1, 0.2, 0.3, 0.4, 0.5, 0.6, 0.7, 0.8, 0.9],
            "tickSize": -20
          }
        },
        "y2": {"datum": 0.9},
        "color": {"field": "s", "type": "nominal", "legend": null}
      }
    }
  ],
  "resolve": {
    "axis": {"x": "independent", "y": "independent"},
    "legend": {"color": "independent"}
  }
}
